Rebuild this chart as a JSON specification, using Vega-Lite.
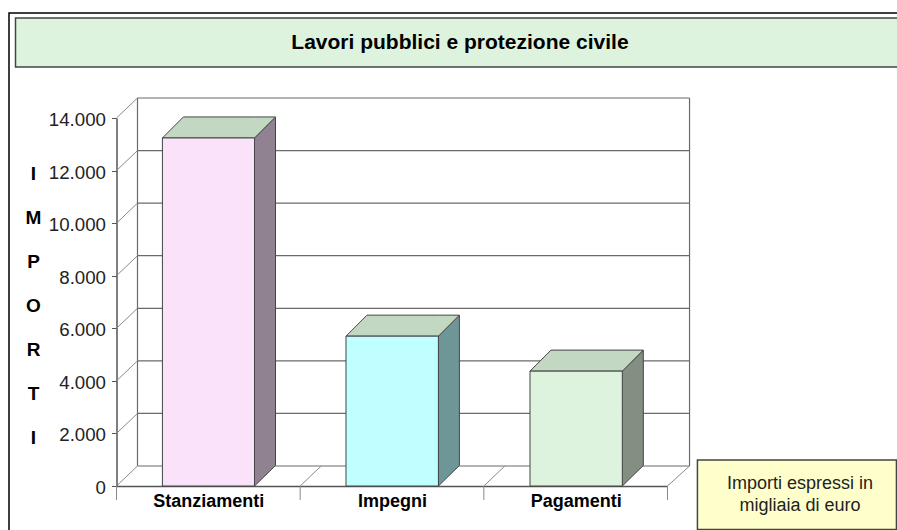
{
"$schema":"https://vega.github.io/schema/vega-lite/v6.json",
"width":551,"height":368,
"autosize":{"type":"none"},
"padding":{"left":116.5,"top":118,"right":229.5,"bottom":44},
"background":"#ffffff",
"config":{"view":{"stroke":null},"font":"Liberation Sans"},
"datasets":{
"griglia":[
{"x":0.1143,"y":761,"x2":3.12,"y2":761},{"x":0.1143,"y":2761,"x2":3.12,"y2":2761},{"x":0.1143,"y":4761,"x2":3.12,"y2":4761},{"x":0.1143,"y":6761,"x2":3.12,"y2":6761},{"x":0.1143,"y":8761,"x2":3.12,"y2":8761},{"x":0.1143,"y":10761,"x2":3.12,"y2":10761},{"x":0.1143,"y":12761,"x2":3.12,"y2":12761},{"x":0.1143,"y":14761,"x2":3.12,"y2":14761},
{"x":0.1143,"y":761,"x2":0.1143,"y2":14761},{"x":3.12,"y":761,"x2":3.12,"y2":14761}],
"diagonali":[
{"x":0,"y":0,"x2":0.1143,"y2":761},{"x":0,"y":2000,"x2":0.1143,"y2":2761},{"x":0,"y":4000,"x2":0.1143,"y2":4761},{"x":0,"y":6000,"x2":0.1143,"y2":6761},{"x":0,"y":8000,"x2":0.1143,"y2":8761},{"x":0,"y":10000,"x2":0.1143,"y2":10761},{"x":0,"y":12000,"x2":0.1143,"y2":12761},{"x":0,"y":14000,"x2":0.1143,"y2":14761},
{"x":1,"y":0,"x2":1.1143,"y2":761},{"x":2,"y":0,"x2":2.1143,"y2":761},{"x":3,"y":0,"x2":3.12,"y2":761},
{"x":0,"y":0,"x2":0,"y2":-533},{"x":1,"y":0,"x2":1,"y2":-533},{"x":2,"y":0,"x2":2,"y2":-533},{"x":3,"y":0,"x2":3,"y2":-533}],
"fronti":[
{"voce":"Stanziamenti","x":0.25,"x2":0.7514,"y":0,"y2":13240},
{"voce":"Impegni","x":1.2495,"x2":1.7526,"y":0,"y2":5700},
{"voce":"Pagamenti","x":2.2514,"x2":2.754,"y":0,"y2":4370}],
"facce":[
{"faccia":"Stanziamenti lato","x":0.7514,"y":13240,"y2":0},{"faccia":"Stanziamenti lato","x":0.8657,"y":14040,"y2":780},
{"faccia":"Impegni lato","x":1.7526,"y":5700,"y2":0},{"faccia":"Impegni lato","x":1.8669,"y":6500,"y2":780},
{"faccia":"Pagamenti lato","x":2.754,"y":4370,"y2":0},{"faccia":"Pagamenti lato","x":2.8683,"y":5170,"y2":780},
{"faccia":"Stanziamenti cima","x":0.25,"y":13240,"y2":13240},{"faccia":"Stanziamenti cima","x":0.3643,"y":14040,"y2":13240},{"faccia":"Stanziamenti cima","x":0.7514,"y":14040,"y2":13240},{"faccia":"Stanziamenti cima","x":0.8657,"y":14040,"y2":14040},
{"faccia":"Impegni cima","x":1.2495,"y":5700,"y2":5700},{"faccia":"Impegni cima","x":1.3638,"y":6500,"y2":5700},{"faccia":"Impegni cima","x":1.7526,"y":6500,"y2":5700},{"faccia":"Impegni cima","x":1.8669,"y":6500,"y2":6500},
{"faccia":"Pagamenti cima","x":2.2514,"y":4370,"y2":4370},{"faccia":"Pagamenti cima","x":2.3657,"y":5170,"y2":4370},{"faccia":"Pagamenti cima","x":2.754,"y":5170,"y2":4370},{"faccia":"Pagamenti cima","x":2.8683,"y":5170,"y2":5170}]
},
"encoding":{
"x":{"field":"x","type":"quantitative","title":null,"scale":{"domain":[0,3],"nice":false,"zero":false},
 "axis":{"values":[0.5,1.5,2.5],"labelExpr":"datum.value==0.5?'Stanziamenti':datum.value==1.5?'Impegni':'Pagamenti'","tickSize":0,"grid":false,"domainColor":"#555555","domainWidth":1.5,"labelFont":"Liberation Sans","labelFontWeight":"bold","labelFontSize":18,"labelColor":"#000000","labelPadding":6,"labelAngle":0,"labelFlush":false,"labelOverlap":false}},
"y":{"field":"y","type":"quantitative","scale":{"domain":[0,14000],"nice":false},
 "title":["I","M","P","O","R","T","I"],
 "axis":{"values":[0,2000,4000,6000,8000,10000,12000,14000],"labelExpr":"replace(format(datum.value,','),',','.')","tickSize":5,"tickColor":"#555555","grid":false,"domainColor":"#555555","domainWidth":1.5,"labelFont":"Liberation Sans","labelFontSize":18.7,"labelColor":"#222222","labelPadding":6,"labelOffset":1.5,"labelFlush":false,"labelOverlap":false,
 "titleFont":"Liberation Sans","titleFontWeight":"bold","titleFontSize":19,"titleColor":"#000000","titleAngle":0,"titleAlign":"center","titleBaseline":"top","titleLineHeight":44,"titleX":-83.5,"titleY":46}}
},
"layer":[
{"data":{"values":[{"x":-0.5853,"x2":4.3,"y":17994,"y2":-2054}]},"mark":{"type":"rect","fill":null,"stroke":"#000000","strokeWidth":1.5,"clip":false},"encoding":{"x2":{"field":"x2"},"y2":{"field":"y2"}}},
{"data":{"values":[{"x":-0.5499,"x2":4.266,"y":17804,"y2":15940}]},"mark":{"type":"rect","fill":"#DDF3DD","stroke":"#444444","strokeWidth":1.5},"encoding":{"x2":{"field":"x2"},"y2":{"field":"y2"}}},
{"data":{"values":[{"x":3.163,"x2":4.2465,"y":989,"y2":-1655}]},"mark":{"type":"rect","fill":"#FFFFCC","stroke":"#444444","strokeWidth":1.5},"encoding":{"x2":{"field":"x2"},"y2":{"field":"y2"}}},
{"data":{"name":"griglia"},"mark":{"type":"rule","stroke":"#6a6a6a","strokeWidth":1.2},"encoding":{"x2":{"field":"x2"},"y2":{"field":"y2"}}},
{"data":{"name":"diagonali"},"mark":{"type":"rule","stroke":"#8a8a8a","strokeWidth":1},"encoding":{"x2":{"field":"x2"},"y2":{"field":"y2"}}},
{"data":{"name":"facce"},"mark":{"type":"area","orient":"vertical","stroke":"#444444","strokeWidth":1,"opacity":1},
 "encoding":{"y2":{"field":"y2"},"detail":{"field":"faccia"},
 "color":{"field":"faccia","type":"nominal","legend":null,"scale":{"domain":["Stanziamenti lato","Impegni lato","Pagamenti lato","Stanziamenti cima","Impegni cima","Pagamenti cima"],"range":["#918291","#6F9696","#828F82","#C2D8C2","#C2D8C2","#C2D8C2"]}}}},
{"data":{"name":"fronti"},"mark":{"type":"rect","stroke":"#444444","strokeWidth":1},
 "encoding":{"x2":{"field":"x2"},"y2":{"field":"y2"},
 "fill":{"field":"voce","type":"nominal","legend":null,"scale":{"domain":["Stanziamenti","Impegni","Pagamenti"],"range":["#FAE3FA","#BFFFFF","#DDF3DD"]}}}},
{"data":{"values":[{"x":1.87,"y":16853,"testo":"Lavori pubblici e protezione civile"}]},"mark":{"type":"text","font":"Liberation Sans","fontWeight":"bold","fontSize":21,"color":"#000000","align":"center","baseline":"middle"},"encoding":{"text":{"field":"testo"}}},
{"data":{"values":[{"x":3.721,"y":76,"testo":"Importi espressi in"},{"x":3.721,"y":-761,"testo":"migliaia di euro"}]},"mark":{"type":"text","font":"Liberation Sans","fontSize":18,"color":"#222222","align":"center","baseline":"middle"},"encoding":{"text":{"field":"testo"}}}
]
}
